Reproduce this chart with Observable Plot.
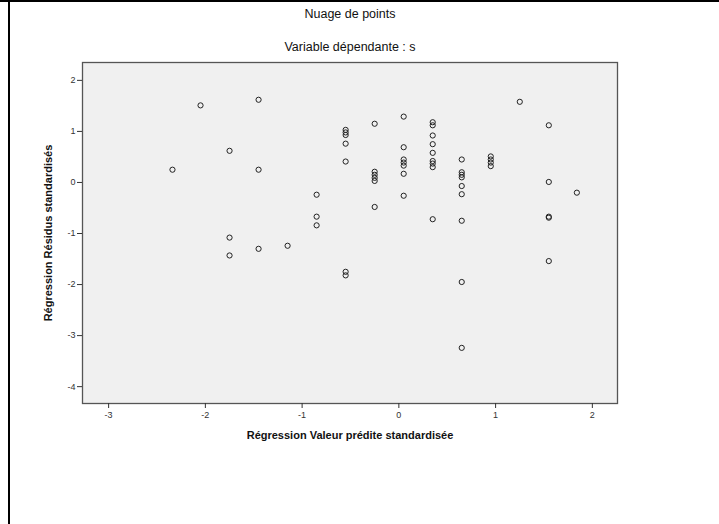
<!DOCTYPE html>
<html>
<head>
<meta charset="utf-8">
<script src="https://cdn.jsdelivr.net/npm/d3@7"></script>
<script src="https://cdn.jsdelivr.net/npm/@observablehq/plot@0.6"></script>
<style>
  html, body { margin: 0; padding: 0; background: #fff; }
  #wrap { position: relative; width: 719px; height: 524px; overflow: hidden; font-family: "Liberation Sans", Arial, sans-serif; }
  .bt { position: absolute; left: 0; top: 0; width: 719px; height: 2px; background: #000; }
  .bl { position: absolute; left: 8px; top: 0; width: 2px; height: 524px; background: #000; }
  .ttl { position: absolute; left: 0; width: 700px; text-align: center; font-size: 12.5px; color: #111; }
  #chart { position: absolute; left: 0; top: 0; }
</style>
</head>
<body>
<div id="wrap">
  <div id="chart"></div>
  <div class="bt"></div>
  <div class="bl"></div>
  <div class="ttl" style="top:7px;">Nuage de points</div>
  <div class="ttl" style="top:40px;">Variable dépendante : s</div>
</div>
<script>
// Predicted standardized values (x) and standardized residuals (y)
const predicted = [
  -2.34,
  -2.05,
  -1.75, -1.75, -1.75,
  -1.45, -1.45, -1.45,
  -1.15,
  -0.85, -0.85, -0.85,
  -0.55, -0.55, -0.55, -0.55, -0.55, -0.55, -0.55,
  -0.25, -0.25, -0.25, -0.25, -0.25, -0.25,
  0.05, 0.05, 0.05, 0.05, 0.05, 0.05, 0.05,
  0.35, 0.35, 0.35, 0.35, 0.35, 0.35, 0.35, 0.35, 0.35,
  0.65, 0.65, 0.65, 0.65, 0.65, 0.65, 0.65, 0.65, 0.65,
  0.95, 0.95, 0.95, 0.95,
  1.25,
  1.55, 1.55, 1.55, 1.55, 1.55,
  1.84
];
const residuals = [
  0.25,
  1.51,
  0.62, -1.08, -1.43,
  1.62, 0.25, -1.30,
  -1.24,
  -0.24, -0.67, -0.84,
  1.03, 0.98, 0.93, 0.76, 0.41, -1.75, -1.82,
  1.15, 0.21, 0.15, 0.09, 0.03, -0.48,
  1.29, 0.69, 0.45, 0.39, 0.33, 0.17, -0.26,
  1.18, 1.12, 0.92, 0.75, 0.58, 0.42, 0.37, 0.30, -0.72,
  0.45, 0.20, 0.15, 0.10, -0.07, -0.23, -0.75, -1.95, -3.24,
  0.51, 0.45, 0.39, 0.32,
  1.58,
  1.12, 0.01, -0.67, -0.69, -1.54,
  -0.20
];
const xTicks = [-3, -2, -1, 0, 1, 2];
const yTicks = [2, 1, 0, -1, -2, -3, -4];
const xTitle = "Régression Valeur prédite standardisée";
const yTitle = "Régression Résidus standardisés";

const points = predicted.map((x, i) => ({x, y: residuals[i]}));

const fontFam = '"Liberation Sans", Arial, sans-serif';
const fmt = d => String(d);

const chart = Plot.plot({
  width: 719,
  height: 524,
  marginLeft: 82,
  marginRight: 102,
  marginTop: 62,
  marginBottom: 121,
  style: {fontFamily: fontFam, fontSize: "9px", color: "#222", background: "transparent"},
  x: {domain: [-3.27, 2.26]},
  y: {domain: [-4.33, 2.35]},
  marks: [
    Plot.frame({fill: "#f0f0f0", stroke: "#555", strokeWidth: 1.3}),
    Plot.axisX(xTicks, {anchor: "bottom", tickSize: 5, tickPadding: 3, tickFormat: fmt, label: null, stroke: "#333", fill: "#333", fontSize: 9}),
    Plot.axisY(yTicks, {anchor: "left", tickSize: 5, tickPadding: 2, tickFormat: fmt, label: null, stroke: "#333", fill: "#333", fontSize: 9}),
    Plot.dot(points, {x: "x", y: "y", r: 2.6, stroke: "#222", strokeWidth: 1, fill: "none"}),
    Plot.text([xTitle], {text: d => d, frameAnchor: "bottom", dy: 35, textAnchor: "middle", fontWeight: "bold", fontSize: 11, fill: "#111"}),
    Plot.text([yTitle], {text: d => d, frameAnchor: "left", dx: -34, textAnchor: "middle", rotate: -90, fontWeight: "bold", fontSize: 11, fill: "#111"})
  ]
});
document.getElementById("chart").appendChild(chart);
</script>
</body>
</html>
